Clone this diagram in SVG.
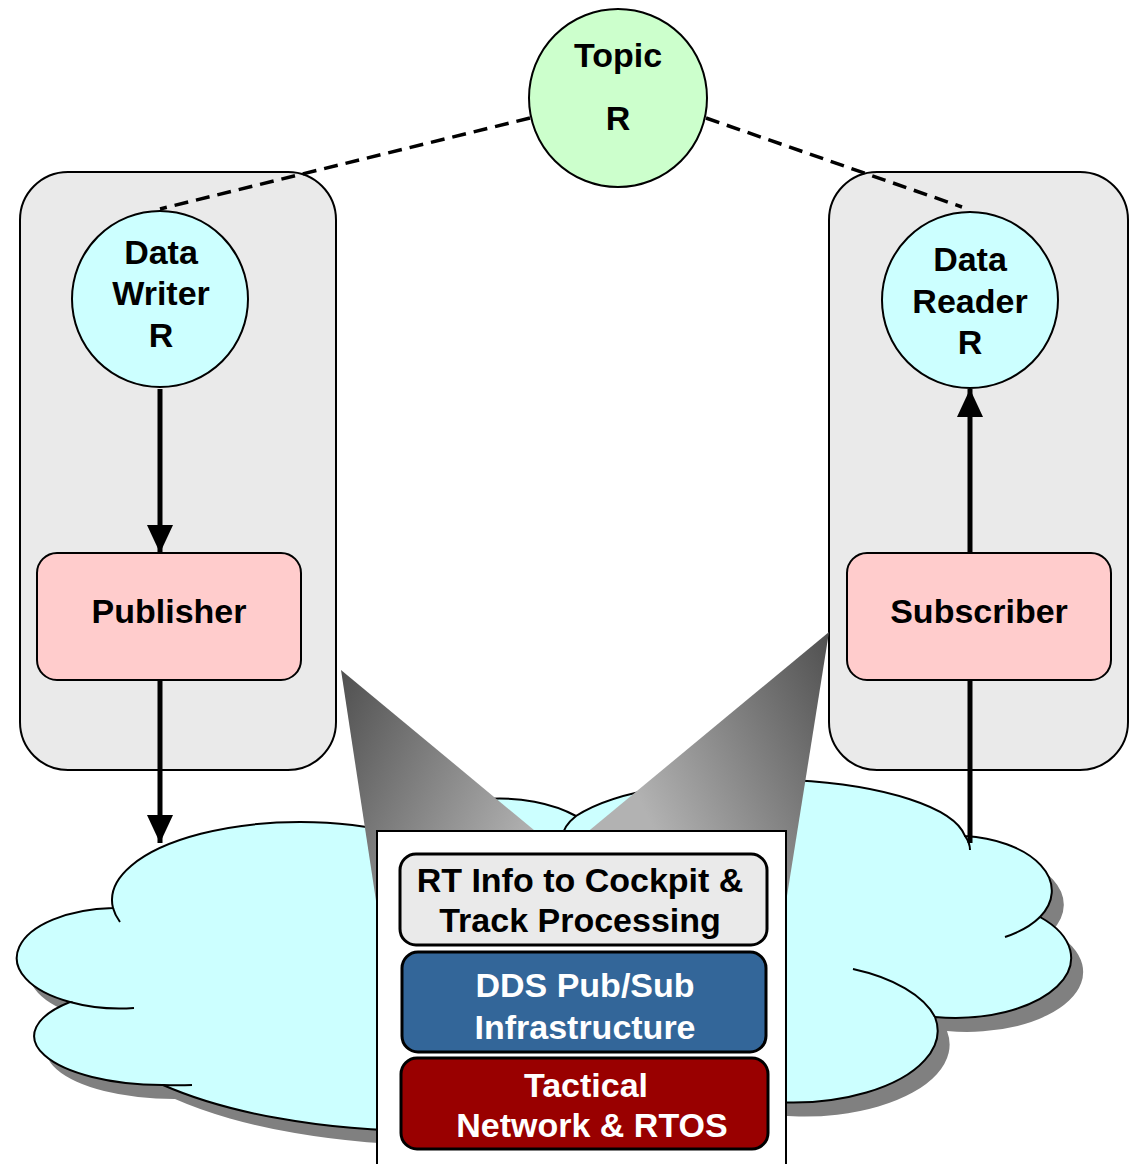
<svg xmlns="http://www.w3.org/2000/svg" width="1134" height="1164" viewBox="0 0 1134 1164">
  <defs>
    <style>
      .lbl { font-family: "Liberation Sans", Arial, sans-serif; font-weight: bold; font-size: 34px; text-anchor: middle; fill: #000; }
      .lbl-w { fill: #FFFFFF; }
      .container { fill: #EAEAEA; stroke: #000; stroke-width: 2; }
      .entity { fill: #CCFFFF; stroke: #000; stroke-width: 2; }
      .topic { fill: #CCFFCC; stroke: #000; stroke-width: 2; }
      .pubsub { fill: #FFCCCC; stroke: #000; stroke-width: 2; }
      .layer { stroke: #000; stroke-width: 3; }
      .flow { stroke: #000; stroke-width: 5; fill: none; }
      .assoc { stroke: #000; stroke-width: 3.5; fill: none; stroke-dasharray: 14 8; }
      .cloud { fill: #CCFFFF; stroke: #000; stroke-width: 2; }
      .cloud-tail { fill: none; stroke: #000; stroke-width: 2; }
    </style>
    <marker id="head" viewBox="0 0 28 26" refX="28" refY="13" markerWidth="28" markerHeight="26" markerUnits="userSpaceOnUse" orient="auto">
      <path d="M0,0 L28,13 L0,26 Z" fill="#000"/>
    </marker>
    <linearGradient id="beamL" gradientUnits="userSpaceOnUse" x1="341" y1="670" x2="560" y2="780">
      <stop offset="0" stop-color="#505050"/>
      <stop offset="1" stop-color="#B2B2B2"/>
    </linearGradient>
    <linearGradient id="beamR" gradientUnits="userSpaceOnUse" x1="829" y1="632" x2="610" y2="742">
      <stop offset="0" stop-color="#505050"/>
      <stop offset="1" stop-color="#B2B2B2"/>
    </linearGradient>
    <path id="cloudShape" d="M113,908 A188,78 0 0 1 400,834 A110,62 0 0 1 576,816 A205,64 0 0 1 965,836 A97,55 0 0 1 1040,917 A116,60 0 0 1 935,1017 A145,72 0 0 1 700,1086 A350,128 0 0 1 163,1085 A128,49 0 0 1 70,1002 A101,50 0 0 1 113,908 Z"/>
  </defs>

  <!-- network cloud -->
  <g id="network">
    <use href="#cloudShape" transform="translate(12,14)" fill="#808080"/>
    <use href="#cloudShape" class="cloud"/>
    <path class="cloud-tail" d="M113,908 A188,78 0 0 0 120,922"/>
    <path class="cloud-tail" d="M70,1002 A101,50 0 0 0 134,1008"/>
    <path class="cloud-tail" d="M163,1085 A128,49 0 0 0 192,1085"/>
    <path class="cloud-tail" d="M935,1017 A145,72 0 0 0 853,969"/>
    <path class="cloud-tail" d="M1040,917 A97,55 0 0 1 1005,937"/>
    <path class="cloud-tail" d="M965,836 A205,64 0 0 1 970,850"/>
    <path class="cloud-tail" d="M576,816 A205,64 0 0 0 562,838"/>
  </g>

  <!-- participant containers -->
  <g id="pub-side">
    <rect class="container" x="20" y="172" width="316" height="598" rx="48"/>
  </g>
  <g id="sub-side">
    <rect class="container" x="829" y="172" width="299" height="598" rx="48"/>
  </g>

  <g id="topic">
    <circle class="topic" cx="618" cy="98" r="89"/>
    <text class="lbl" x="618" y="67">Topic</text>
    <text class="lbl" x="618" y="130">R</text>
  </g>

  <g id="data-writer">
    <circle class="entity" cx="160" cy="299" r="88"/>
    <text class="lbl" x="161" y="264">Data</text>
    <text class="lbl" x="161" y="305">Writer</text>
    <text class="lbl" x="161" y="347">R</text>
  </g>

  <g id="data-reader">
    <circle class="entity" cx="970" cy="300" r="88"/>
    <text class="lbl" x="970" y="271">Data</text>
    <text class="lbl" x="970" y="313">Reader</text>
    <text class="lbl" x="970" y="354">R</text>
  </g>

  <g id="publisher">
    <rect class="pubsub" x="37" y="553" width="264" height="127" rx="20"/>
    <text class="lbl" x="169" y="623">Publisher</text>
  </g>

  <g id="subscriber">
    <rect class="pubsub" x="847" y="553" width="264" height="127" rx="20"/>
    <text class="lbl" x="979" y="623">Subscriber</text>
  </g>

  <!-- callout beams -->
  <g id="callout-beams">
    <polygon points="341,670 540,835 385,960" fill="url(#beamL)"/>
    <polygon points="829,632 585,834 780,940" fill="url(#beamR)"/>
  </g>

  <!-- layered stack -->
  <g id="stack">
    <rect x="377" y="831" width="409" height="345" fill="#FFFFFF" stroke="#000" stroke-width="2"/>
    <g id="app-layer">
      <rect class="layer" x="400" y="854" width="367" height="91" rx="16" fill="#EAEAEA"/>
      <text class="lbl" x="580" y="892">RT Info to Cockpit &amp;</text>
      <text class="lbl" x="580" y="932">Track Processing</text>
    </g>
    <g id="dds-layer">
      <rect class="layer" x="402" y="952" width="364" height="100" rx="16" fill="#336699"/>
      <text class="lbl lbl-w" x="585" y="997">DDS Pub/Sub</text>
      <text class="lbl lbl-w" x="585" y="1039">Infrastructure</text>
    </g>
    <g id="net-layer">
      <rect class="layer" x="401" y="1058" width="367" height="91" rx="16" fill="#990000"/>
      <text class="lbl lbl-w" x="586" y="1097">Tactical</text>
      <text class="lbl lbl-w" x="592" y="1137">Network &amp; RTOS</text>
    </g>
  </g>

  <!-- connectors -->
  <g id="connectors">
    <line class="assoc" x1="530" y1="118" x2="160" y2="209"/>
    <line class="assoc" x1="706" y1="118" x2="962" y2="207"/>
    <line class="flow" x1="160" y1="389" x2="160" y2="553" marker-end="url(#head)"/>
    <line class="flow" x1="160" y1="680" x2="160" y2="843" marker-end="url(#head)"/>
    <line class="flow" x1="970" y1="553" x2="970" y2="389" marker-end="url(#head)"/>
    <line class="flow" x1="970" y1="843" x2="970" y2="680"/>
  </g>
</svg>
